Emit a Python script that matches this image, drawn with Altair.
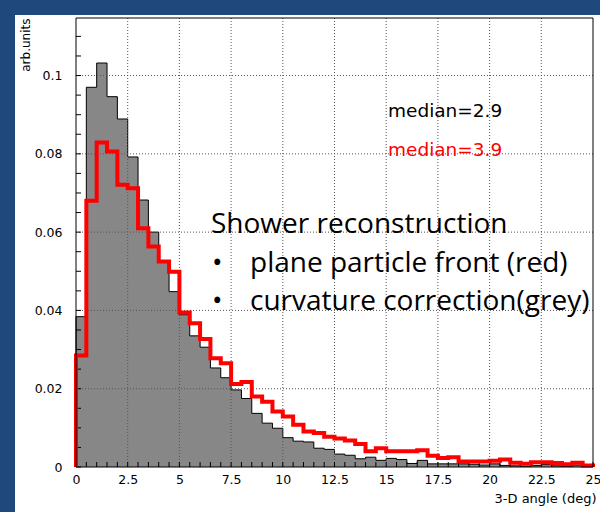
import altair as alt
import pandas as pd

# Histogram contents, 0.5 deg bins from 0 to 25 deg
bin_starts = [i * 0.5 for i in range(50)]

# curvature-corrected front (grey, filled)
grey_counts = [
    0.0384, 0.0970, 0.1032, 0.0946, 0.0889, 0.0792, 0.0682, 0.0600, 0.0523, 0.0448,
    0.0389, 0.0335, 0.0306, 0.0253, 0.0228, 0.0197, 0.0175, 0.0137, 0.0112, 0.0099,
    0.0075, 0.0066, 0.0064, 0.0048, 0.0045, 0.0033, 0.0030, 0.0021, 0.0025, 0.0017,
    0.0022, 0.0019, 0.0009, 0.0017, 0.0008, 0.0008, 0.0008, 0.0008, 0.0007, 0.0005,
    0.0008, 0.0004, 0.0003, 0.0002, 0.0004, 0.0006, 0.0003, 0.0002, 0.0005, 0.0002,
]

# plane particle front (red outline)
red_counts = [
    0.0285, 0.0680, 0.0829, 0.0806, 0.0721, 0.0712, 0.0610, 0.0563, 0.0525, 0.0499,
    0.0395, 0.0367, 0.0327, 0.0278, 0.0265, 0.0212, 0.0217, 0.0180, 0.0167, 0.0142,
    0.0129, 0.0108, 0.0091, 0.0087, 0.0077, 0.0073, 0.0068, 0.0059, 0.0040, 0.0048,
    0.0040, 0.0040, 0.0040, 0.0043, 0.0029, 0.0023, 0.0025, 0.0014, 0.0014, 0.0014,
    0.0016, 0.0019, 0.0011, 0.0008, 0.0012, 0.0012, 0.0010, 0.0007, 0.0011, 0.0004,
]

x_major = [0, 2.5, 5, 7.5, 10, 12.5, 15, 17.5, 20, 22.5, 25]
x_grid = [2.5, 5, 7.5, 10, 12.5, 15, 17.5, 20, 22.5]
x_minor = [i * 0.5 for i in range(51)]
y_major = [0, 0.02, 0.04, 0.06, 0.08, 0.1]
y_grid = [0.02, 0.04, 0.06, 0.08, 0.1]
y_minor = [i * 0.005 for i in range(23)]

W, H = 517, 449
X_MAX, Y_MAX = 25, 0.1147
BLUE = "#1f497d"
AXIS_FONT = "DejaVu Sans"
NOTE_FONT = "Open Sans"

x_scale = alt.Scale(domain=[0, X_MAX], nice=False, zero=False)
y_scale = alt.Scale(domain=[0, Y_MAX], nice=False, zero=True)

x_axis = alt.Axis(
    values=x_major, labelExpr="'' + datum.value", grid=False, ticks=False, domain=False,
    labelFont=AXIS_FONT, labelFontSize=12.5, labelColor="black", labelPadding=6,
    labelFlush=False, labelOverlap=False, labelBound=False,
    title="3-D angle (deg)", titleFont=AXIS_FONT, titleFontSize=13,
    titleFontWeight="normal", titleColor="black", titleAlign="right",
    titleAnchor="end", titleX=W + 3, titleY=31, titleBaseline="middle",
)
y_axis = alt.Axis(
    values=y_major, labelExpr="'' + datum.value", grid=False, ticks=False, domain=False,
    labelFont=AXIS_FONT, labelFontSize=12.5, labelColor="black", labelPadding=14,
    labelOverlap=False, labelBound=False, labelFlush=False,
    title="arb.units", titleFont=AXIS_FONT, titleFontSize=12,
    titleFontWeight="normal", titleColor="black", titleAngle=270,
    titleAlign="right", titleAnchor="end", titleBaseline="bottom",
    titleX=-44, titleY=0,
)


def X(field):
    return alt.X(field, scale=x_scale, axis=x_axis)


def Y(field):
    return alt.Y(field, scale=y_scale, axis=y_axis)


def filled(counts):
    xs = bin_starts + [X_MAX]
    ys = counts + [counts[-1]]
    return pd.DataFrame({"x": xs, "y": ys})


def outline(counts):
    xs = [0.0] + bin_starts + [X_MAX, X_MAX]
    ys = [0.0] + counts + [counts[-1], 0.0]
    return pd.DataFrame({"x": xs, "y": ys, "i": list(range(len(xs)))})


grey_fill = alt.Chart(filled(grey_counts)).mark_area(
    interpolate="step-after", color="#878787"
).encode(x=X("x:Q"), y=Y("y:Q"))

grey_line = alt.Chart(outline(grey_counts)).mark_line(
    interpolate="step-after", color="black", strokeWidth=1
).encode(x=X("x:Q"), y=Y("y:Q"), order="i:Q")

grid_v = alt.Chart(pd.DataFrame({"x": x_grid})).mark_rule(
    color="#555", strokeWidth=1, strokeDash=[1, 2]
).encode(x=X("x:Q"))

grid_h = alt.Chart(pd.DataFrame({"y": y_grid})).mark_rule(
    color="#555", strokeWidth=1, strokeDash=[1, 2]
).encode(y=Y("y:Q"))

x_ticks = alt.Chart(pd.DataFrame({"x": x_minor})).mark_rule(color="black").encode(
    x=X("x:Q"), y=alt.value(H), y2=alt.value(H - 5)
)
y_ticks = alt.Chart(pd.DataFrame({"y": y_minor})).mark_rule(color="black").encode(
    y=Y("y:Q"), x=alt.value(0), x2=alt.value(5)
)

red_line = alt.Chart(outline(red_counts)).mark_line(
    interpolate="step-after", color="#ff0000", strokeWidth=4
).encode(x=X("x:Q"), y=Y("y:Q"), order="i:Q")

one = pd.DataFrame({"k": [0]})


def label(text, x, y, font, size, color="black"):
    return alt.Chart(one).mark_text(
        text=text, font=font, fontSize=size, color=color,
        align="left", baseline="alphabetic"
    ).encode(x=alt.value(x), y=alt.value(y))


frame = alt.Chart(one).mark_rect(fill=None, stroke="black", strokeWidth=1).encode(
    x=alt.value(0), x2=alt.value(W), y=alt.value(0), y2=alt.value(H)
)

median_grey = label("median=2.9", 312, 99, AXIS_FONT, 18.5)
median_red = label("median=3.9", 312, 138, AXIS_FONT, 18.5, "#ff0000")

note_title = label("Shower reconstruction", 135, 215, NOTE_FONT, 28)
bullet_1 = label("•", 136, 254, NOTE_FONT, 28)
bullet_2 = label("•", 136, 292, NOTE_FONT, 28)
note_red = label("plane particle front (red)", 174, 254, NOTE_FONT, 28)
note_grey = label("curvature correction(grey)", 174, 292, NOTE_FONT, 28)

# slide border strips
band_left = alt.Chart(one).mark_rect(color=BLUE).encode(
    x=alt.value(-76), x2=alt.value(-61), y=alt.value(-18), y2=alt.value(H + 45)
)
band_top = alt.Chart(one).mark_rect(color=BLUE).encode(
    x=alt.value(-76), x2=alt.value(W + 7), y=alt.value(-18), y2=alt.value(-3)
)

chart = alt.layer(
    grey_fill, grey_line, grid_v, grid_h, x_ticks, y_ticks, red_line,
    median_grey, median_red, note_title, bullet_1, bullet_2, note_red, note_grey,
    frame, band_left, band_top,
).properties(
    width=W, height=H,
    autosize=alt.AutoSizeParams(type="none"),
    padding={"left": 76, "top": 18, "right": 7, "bottom": 45},
    background="white",
).configure_view(stroke=None)

chart.save("out.html", embed_options={"renderer": "svg", "actions": False})
